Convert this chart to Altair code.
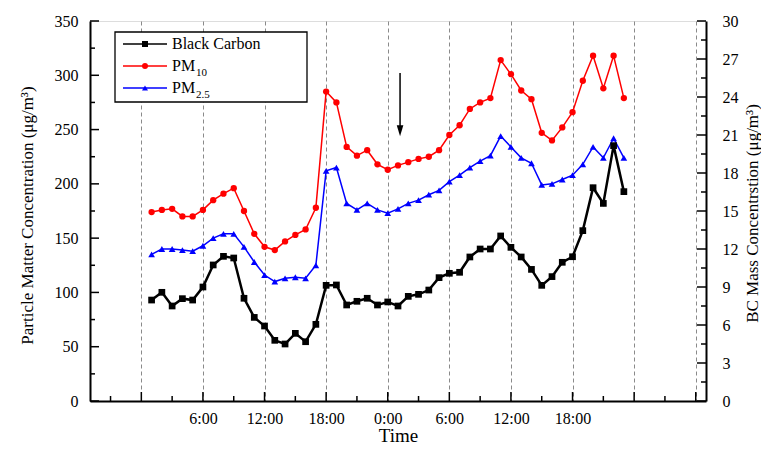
import altair as alt
import pandas as pd

# ---------------- data ----------------
hours = list(range(1, 48))  # hours from start of day 1 (0 = 0:00)

bc = [7.97, 8.58, 7.5, 8.08, 7.97, 9.0, 10.74, 11.42, 11.29, 8.11,
      6.6, 5.92, 4.79, 4.5, 5.34, 4.68, 6.05, 9.13, 9.16, 7.58,
      7.87, 8.11, 7.58, 7.82, 7.5, 8.26, 8.42, 8.76, 9.74, 10.08,
      10.16, 11.37, 12.0, 12.0, 13.03, 12.13, 11.37, 10.39, 9.13, 9.82,
      10.95, 11.39, 13.45, 16.84, 15.6, 20.16, 16.53]

pm10 = [174, 176, 177, 170, 170, 176, 185, 191, 196, 175,
        154, 142, 139, 147, 153, 158, 178, 285, 275, 234,
        226, 231, 218, 213, 217, 220, 223, 225, 231, 245,
        254, 269, 275, 279, 314, 301, 286, 278, 247, 240,
        252, 266, 295, 318, 288, 318, 279]

pm25 = [135, 140, 140, 139, 138, 143, 150, 154, 154, 142,
        128, 116, 110, 113, 114, 113, 125, 212, 215, 182,
        176, 182, 176, 173, 177, 182, 185, 190, 194, 202,
        208, 215, 221, 226, 244, 234, 224, 219, 199, 200,
        204, 208, 218, 234, 224, 242, 224]

x_major = list(range(0, 55, 6))
x_minor = list(range(-3, 54, 6))
left_major = list(range(0, 351, 50))
left_minor = list(range(25, 350, 50))
right_major = list(range(0, 31, 3))
right_minor = [1.5, 4.5, 7.5, 10.5, 13.5, 16.5, 19.5, 22.5, 25.5, 28.5]

arrow_hour = [25.2]
arrow_top = [302]
arrow_tip = [249]

legend_names = ["Black Carbon", "PM", "PM"]
legend_subs = ["", "10", "2.5"]
legend_colors = ["#000000", "#ff0000", "#0000ff"]
legend_shapes = ["square", "circle", "triangle-up"]
legend_rows = [23, 45, 67]

FONT = "Liberation Serif"
W, H = 616, 380

df = pd.DataFrame({"hour": hours, "bc": bc, "pm10": pm10, "pm25": pm25})


def xsc():
    return alt.Scale(domain=[-5, 55], nice=False, zero=False)


def ylsc():
    return alt.Scale(domain=[0, 350], nice=False, zero=True)


def yrsc():
    return alt.Scale(domain=[0, 30], nice=False, zero=True)


def xaxis():
    return alt.Axis(
        values=x_major, grid=True, gridDash=[4, 3], gridColor="#8a8a8a", gridWidth=1,
        ticks=False, tickSize=0, domainColor="black", domainWidth=2,
        labelExpr="datum.value >= 6 && datum.value <= 42 ? (datum.value % 24) + ':00' : ''",
        labelFont=FONT, labelFontSize=16, labelColor="black", labelPadding=9,
        labelFlush=False, labelOverlap=False,
        title="Time", titleFont=FONT, titleFontSize=19, titleFontWeight="normal",
        titleColor="black", titleX=W / 2, titleY=34, titleBaseline="middle",
    )


yaxis_left = alt.Axis(
    orient="left", values=left_major, grid=False, ticks=False, tickSize=0,
    domainColor="black", domainWidth=2,
    labelFont=FONT, labelFontSize=16, labelColor="black", labelPadding=12,
    labelFlush=False, labelOverlap=False,
    title="Particle Matter Concentration (μg/m³)", titleFont=FONT, titleFontSize=17,
    titleFontWeight="normal", titleColor="black", titleAngle=270,
    titleX=-63, titleY=194, titleBaseline="middle", titleAlign="center",
)

yaxis_right = alt.Axis(
    orient="right", values=right_major, grid=False, ticks=False, tickSize=0,
    domainColor="black", domainWidth=2,
    labelFont=FONT, labelFontSize=16, labelColor="black", labelPadding=16,
    labelFlush=False, labelOverlap=False,
    title="BC Mass Concentrstion (μg/m³)", titleFont=FONT, titleFontSize=17,
    titleFontWeight="normal", titleColor="black", titleAngle=270,
    titleX=46, titleY=192, titleBaseline="middle", titleAlign="center",
)

base = alt.Chart(df)


def xe(field="hour:Q"):
    # every layer carries the same x-axis definition so the shared axis merges cleanly
    return alt.X(field, scale=xsc(), axis=xaxis())


pm10_line = base.mark_line(color="#ff0000", strokeWidth=1.5).encode(
    x=xe(), y=alt.Y("pm10:Q", scale=ylsc(), axis=yaxis_left))
pm10_pts = base.mark_point(filled=True, shape="circle", size=40, color="#ff0000", opacity=1).encode(
    x=xe(), y=alt.Y("pm10:Q", scale=ylsc(), axis=None))
pm25_line = base.mark_line(color="#0000ff", strokeWidth=1.5).encode(
    x=xe(), y=alt.Y("pm25:Q", scale=ylsc(), axis=None))
pm25_pts = base.mark_point(filled=True, shape="triangle-up", size=45, color="#0000ff", opacity=1).encode(
    x=xe(), y=alt.Y("pm25:Q", scale=ylsc(), axis=None))

bc_line = base.mark_line(color="black", strokeWidth=2.5).encode(
    x=xe(), y=alt.Y("bc:Q", scale=yrsc(), axis=yaxis_right))
bc_pts = base.mark_point(filled=True, shape="square", size=45, color="black", opacity=1).encode(
    x=xe(), y=alt.Y("bc:Q", scale=yrsc(), axis=None))

# inward ticks on the left axis
lmaj = alt.Chart(pd.DataFrame({"v": left_major})).mark_rule(color="black", strokeWidth=1.5).encode(
    y=alt.Y("v:Q", scale=ylsc(), axis=None), x=alt.value(0), x2=alt.value(9))
lmin = alt.Chart(pd.DataFrame({"v": left_minor})).mark_rule(color="black", strokeWidth=1.5).encode(
    y=alt.Y("v:Q", scale=ylsc(), axis=None), x=alt.value(0), x2=alt.value(5))

# inward ticks on the right axis
rmaj = alt.Chart(pd.DataFrame({"v": right_major})).mark_rule(color="black", strokeWidth=1.5).encode(
    y=alt.Y("v:Q", scale=yrsc(), axis=None), x=alt.value(W - 9), x2=alt.value(W))
rmin = alt.Chart(pd.DataFrame({"v": right_minor})).mark_rule(color="black", strokeWidth=1.5).encode(
    y=alt.Y("v:Q", scale=yrsc(), axis=None), x=alt.value(W - 5), x2=alt.value(W))

# inward ticks on the bottom axis
bmaj = alt.Chart(pd.DataFrame({"h": x_major})).mark_rule(color="black", strokeWidth=1.5).encode(
    x=xe("h:Q"), y=alt.value(H), y2=alt.value(H - 9))
bmin = alt.Chart(pd.DataFrame({"h": x_minor})).mark_rule(color="black", strokeWidth=1.5).encode(
    x=xe("h:Q"), y=alt.value(H), y2=alt.value(H - 5))

# arrow annotation
arrow_df = pd.DataFrame({"h": arrow_hour, "top": arrow_top, "tip": arrow_tip})
arrow_line = alt.Chart(arrow_df).mark_rule(color="black", strokeWidth=1.5).encode(
    x=xe("h:Q"), y=alt.Y("top:Q", scale=ylsc(), axis=None), y2="tip:Q")
arrow_head = alt.Chart(arrow_df).mark_point(
    filled=True, shape="M-0.6,-1L0.6,-1L0,1Z", size=121, color="black", opacity=1
).encode(x=xe("h:Q"), y=alt.Y("tip:Q", scale=ylsc(), axis=None))

# manual legend (with real subscripts)
leg_df = pd.DataFrame({"name": legend_names, "sub": legend_subs, "col": legend_colors,
                       "sym": legend_shapes, "ly": legend_rows})
leg_frame = alt.Chart(pd.DataFrame({"k": [0]})).mark_rect(
    fill="white", stroke="black", strokeWidth=1.3
).encode(x=alt.value(25), x2=alt.value(217), y=alt.value(11), y2=alt.value(81))
leg_lines = alt.Chart(leg_df).mark_rule(strokeWidth=1.5).encode(
    x=alt.value(33), x2=alt.value(77),
    y=alt.Y("ly:Q", scale=None, axis=None),
    color=alt.Color("col:N", scale=None, legend=None))
leg_pts = alt.Chart(leg_df).mark_point(filled=True, size=36, opacity=1).encode(
    x=alt.value(55), y=alt.Y("ly:Q", scale=None, axis=None),
    shape=alt.Shape("sym:N", scale=None, legend=None),
    color=alt.Color("col:N", scale=None, legend=None))
leg_text = alt.Chart(leg_df).mark_text(
    align="left", baseline="middle", font=FONT, fontSize=16, color="black"
).encode(x=alt.value(82), y=alt.Y("ly:Q", scale=None, axis=None), text="name:N")
leg_sub = alt.Chart(leg_df).mark_text(
    align="left", baseline="middle", font=FONT, fontSize=11, color="black", dy=7
).encode(x=alt.value(106), y=alt.Y("ly:Q", scale=None, axis=None), text="sub:N")

chart = alt.layer(
    pm10_line, bc_line,
    pm10_pts, pm25_line, pm25_pts, bc_pts,
    lmaj, lmin, rmaj, rmin, bmaj, bmin, arrow_line, arrow_head,
    leg_frame, leg_lines, leg_pts, leg_text, leg_sub,
).resolve_scale(y="independent").properties(
    width=W, height=H,
    padding={"left": 82, "top": 13, "right": 55, "bottom": 46},
    autosize=alt.AutoSizeParams(type="none"),
).configure_view(stroke=None).configure(font=FONT)

chart.save("out.html", embed_options={"renderer": "svg", "actions": False})
